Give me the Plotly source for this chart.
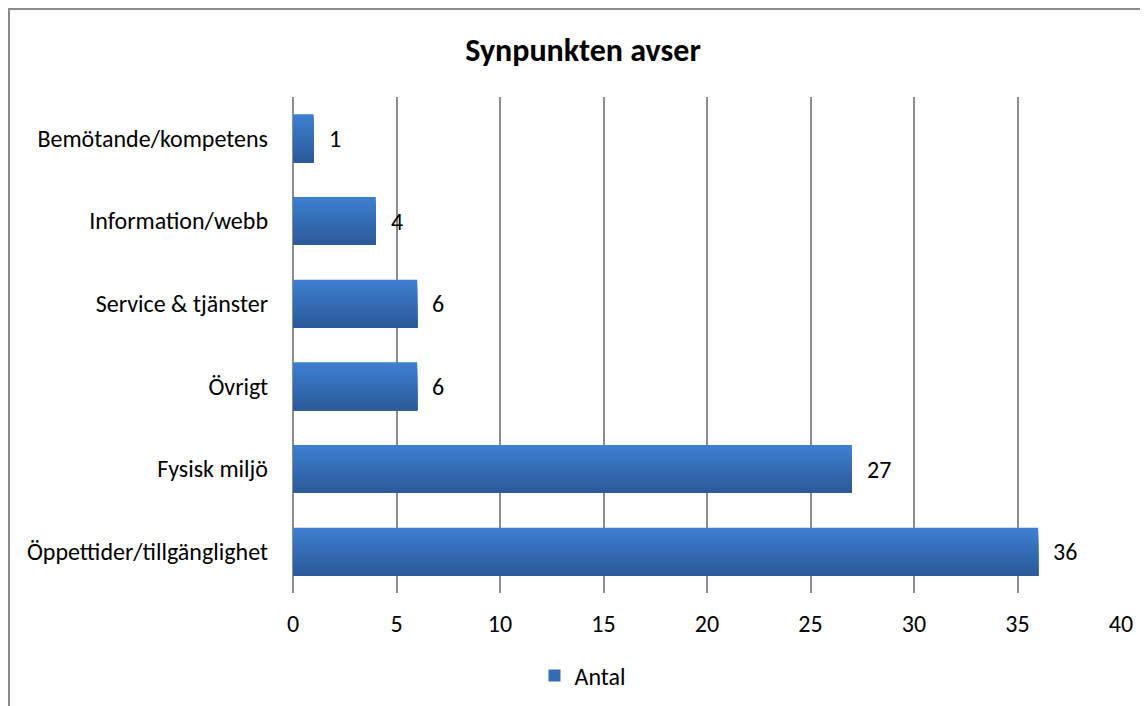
import plotly.graph_objects as go

categories = ["Öppettider/tillgänglighet", "Fysisk miljö", "Övrigt",
              "Service & tjänster", "Information/webb", "Bemötande/kompetens"]
values = [36, 27, 6, 6, 4, 1]
series_name = "Antal"
x_ticks = [0, 5, 10, 15, 20, 25, 30, 35, 40]

FONT = "Carlito, Calibri, Lato, sans-serif"

# gradient approximated with nested bars (top light -> bottom dark)
top_rgb = (61, 127, 206)
bot_rgb = (43, 91, 154)
n_stripes = 14
bar_w = 0.58
sw = bar_w / n_stripes

# plot area geometry in figure pixels
L, T, PW, PH = 285, 89, 828, 496
W, H = 1148, 706

fig = go.Figure()
for k in range(n_stripes):
    t = k / (n_stripes - 1)
    c = tuple(round(top_rgb[i] + (bot_rgb[i] - top_rgb[i]) * t) for i in range(3))
    color = "rgb(%d,%d,%d)" % c
    fig.add_trace(go.Bar(
        x=values, y=categories, orientation="h",
        name=series_name,
        offset=-bar_w / 2,
        width=bar_w - k * sw,
        marker=dict(color=color, line=dict(width=0)),
        showlegend=(k == n_stripes // 2),
        hoverinfo="x+y",
    ))

for v, c in zip(values, categories):
    fig.add_annotation(x=v, y=c, text=str(v), showarrow=False,
                       xanchor="left", xshift=13,
                       font=dict(family=FONT, size=24, color="#000"))

# outer chart border
fig.add_shape(type="rect", xref="paper", yref="paper",
              x0=(1 - L) / PW, x1=(W + 20 - L) / PW,
              y0=(T + PH - (H + 20)) / PH, y1=(T + PH - 1) / PH,
              line=dict(color="#8a8a8a", width=2), fillcolor="rgba(0,0,0,0)",
              layer="below")

fig.update_layout(
    width=W, height=H,
    margin=dict(l=L, r=W - L - PW, t=T, b=H - T - PH),
    paper_bgcolor="white", plot_bgcolor="white",
    barmode="overlay",
    title=dict(text="<b>Synpunkten avser</b>", x=575 / W, xanchor="center",
               y=1 - 42 / H, yanchor="middle",
               font=dict(family=FONT, size=32, color="#000")),
    font=dict(family=FONT, size=24, color="#000"),
    xaxis=dict(range=[0, 40], tickvals=x_ticks, showgrid=True,
               gridcolor="#8c8c8c", gridwidth=1.5, zeroline=True,
               zerolinecolor="#8c8c8c", zerolinewidth=1.5,
               showline=False, ticks="", ticklabelstandoff=14,
               tickfont=dict(family=FONT, size=24, color="#000"), fixedrange=True),
    yaxis=dict(categoryorder="array", categoryarray=categories,
               range=[-0.5, len(categories) - 0.5],
               showgrid=False, zeroline=False, showline=False, ticks="",
               ticklabelstandoff=24,
               tickfont=dict(family=FONT, size=24, color="#000")),
    legend=dict(orientation="h", x=(575 - L) / PW, xanchor="center",
                y=(T + PH - 668) / PH, yanchor="middle",
                font=dict(family=FONT, size=24, color="#000"),
                bgcolor="rgba(0,0,0,0)"),
)

fig.write_html("out.html")
